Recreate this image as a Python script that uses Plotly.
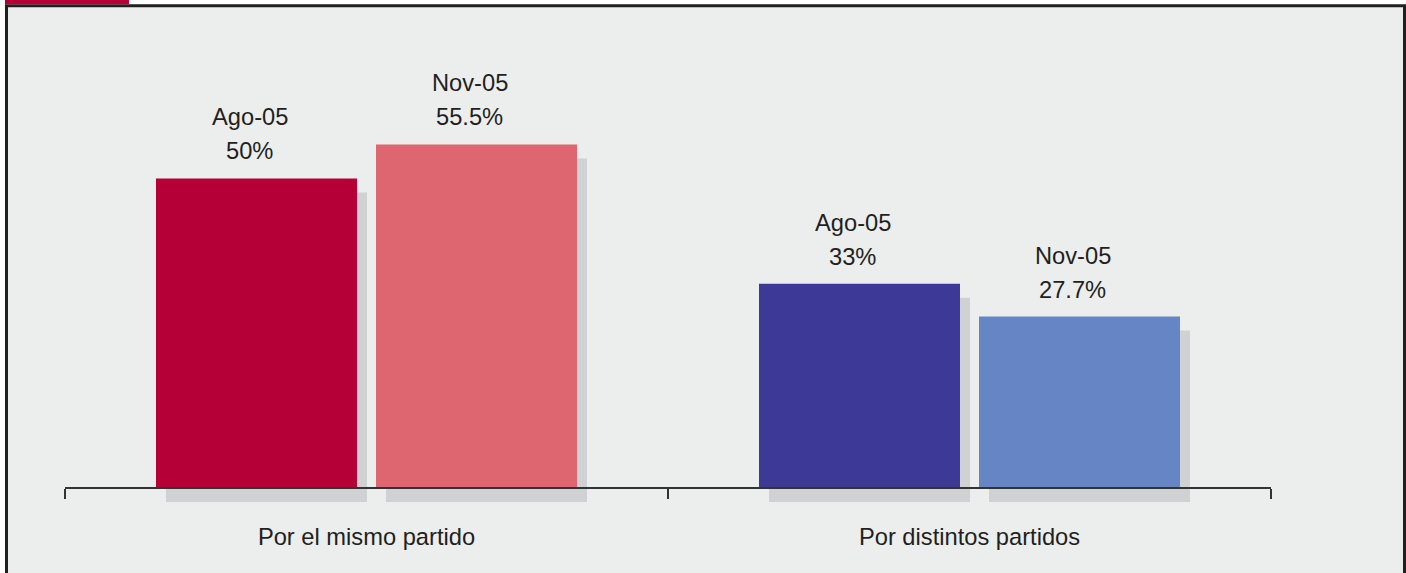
import plotly.graph_objects as go

# ---- data ----
categories = ["Por el mismo partido", "Por distintos partidos"]
periods = ["Ago-05", "Nov-05"]
ago_values = [50, 33]
nov_values = [55.5, 27.7]
ago_colors = ["#B40036", "#3C3A96"]
nov_colors = ["#DD6670", "#6585C4"]
shadow_color = "#D0D1D3"

# ---- geometry (pixels) ----
W, H = 1406, 573
X_LEFT, X_RIGHT = 65, 1271
AXIS_Y = 488
PLOT_TOP, PLOT_BOTTOM = 30, 515
PX_PER_PCT = 6.19
SHADOW_DX, SHADOW_DY = 10, 14
CAT_PX = (X_RIGHT - X_LEFT) / len(categories)
BARGAP = 0.2703
BARGROUPGAP = 0.0864
FONT = "Liberation Sans, Arial, Helvetica, sans-serif"
FONT_SIZE = 23.7
TEXT_COLOR = "#231F20"

k = PX_PER_PCT
y_dom = [1 - PLOT_BOTTOM / H, 1 - PLOT_TOP / H]
y2_range = [-(PLOT_BOTTOM - AXIS_Y) / k, (AXIS_Y - PLOT_TOP) / k]
shadow_base = AXIS_Y + SHADOW_DY
y_range = [-(PLOT_BOTTOM - shadow_base) / k, (shadow_base - PLOT_TOP) / k]
dxu = SHADOW_DX / CAT_PX
x2_range = [-0.5, len(categories) - 0.5]
x_range = [x2_range[0] - dxu, x2_range[1] - dxu]
x_dom = [X_LEFT / W, X_RIGHT / W]

fig = go.Figure()

# shadows (base subplot)
for name, vals in zip(periods, [ago_values, nov_values]):
    fig.add_trace(go.Bar(
        x=categories, y=vals, name=name + " sombra",
        marker=dict(color=shadow_color, line=dict(width=0)),
        xaxis="x", yaxis="y", offsetgroup=name,
        showlegend=False, hoverinfo="skip",
    ))

# coloured bars (overlay subplot)
for name, vals, cols in zip(periods, [ago_values, nov_values], [ago_colors, nov_colors]):
    fig.add_trace(go.Bar(
        x=categories, y=vals, name=name,
        marker=dict(color=cols, line=dict(width=0)),
        xaxis="x2", yaxis="y2", offsetgroup=name,
        showlegend=False,
    ))

# value labels
slot = (1 - BARGAP) / 2
offsets = [-slot / 2, slot / 2]
annotations = []
for pi, (name, vals) in enumerate(zip(periods, [ago_values, nov_values])):
    for ci, v in enumerate(vals):
        xpos = ci + offsets[pi]
        annotations.append(dict(
            x=xpos, y=v, xref="x2", yref="y2", text=f"{v:g}%",
            showarrow=False, yanchor="middle", xanchor="center",
            yshift=27, xshift=-7,
            font=dict(family=FONT, size=FONT_SIZE, color=TEXT_COLOR),
        ))
        annotations.append(dict(
            x=xpos, y=v, xref="x2", yref="y2", text=name,
            showarrow=False, yanchor="middle", xanchor="center",
            yshift=61, xshift=-7,
            font=dict(family=FONT, size=FONT_SIZE, color=TEXT_COLOR),
        ))

def px_x(p):
    return p / W

def px_y(p):
    return 1 - p / H

shapes = [
    # panel background with dark frame
    dict(type="rect", xref="paper", yref="paper",
         x0=px_x(6.5), x1=px_x(1404.5), y0=px_y(600), y1=px_y(5.8),
         fillcolor="#ECEEED", line=dict(color=TEXT_COLOR, width=3), layer="below"),
    # red tab
    dict(type="rect", xref="paper", yref="paper",
         x0=px_x(5), x1=px_x(129), y0=px_y(4.3), y1=px_y(0),
         fillcolor="#B40036", line=dict(width=0), layer="below"),
]

fig.update_layout(
    width=W, height=H,
    margin=dict(l=0, r=0, t=0, b=0),
    paper_bgcolor="white",
    plot_bgcolor="rgba(0,0,0,0)",
    barmode="group",
    bargap=BARGAP,
    bargroupgap=BARGROUPGAP,
    showlegend=False,
    hovermode=False,
    shapes=shapes,
    annotations=annotations,
    xaxis=dict(domain=x_dom, range=x_range, visible=False, type="category"),
    yaxis=dict(domain=y_dom, range=y_range, visible=False),
    xaxis2=dict(
        domain=x_dom, range=x2_range, overlaying="x", anchor="free",
        position=1 - AXIS_Y / H, type="category",
        showline=True, linecolor="#333333", linewidth=2,
        ticks="outside", tickson="boundaries", ticklen=10, tickwidth=2,
        tickcolor="#333333", showgrid=False, zeroline=False,
        tickfont=dict(family=FONT, size=FONT_SIZE, color=TEXT_COLOR),
        ticklabelstandoff=28, automargin=False,
    ),
    yaxis2=dict(domain=y_dom, range=y2_range, overlaying="y", anchor="x2",
                visible=False),
)

fig.write_html(
    "out.html",
    config={"displayModeBar": False},
    post_script="document.body.style.margin='0';document.body.style.overflow='hidden';",
)
